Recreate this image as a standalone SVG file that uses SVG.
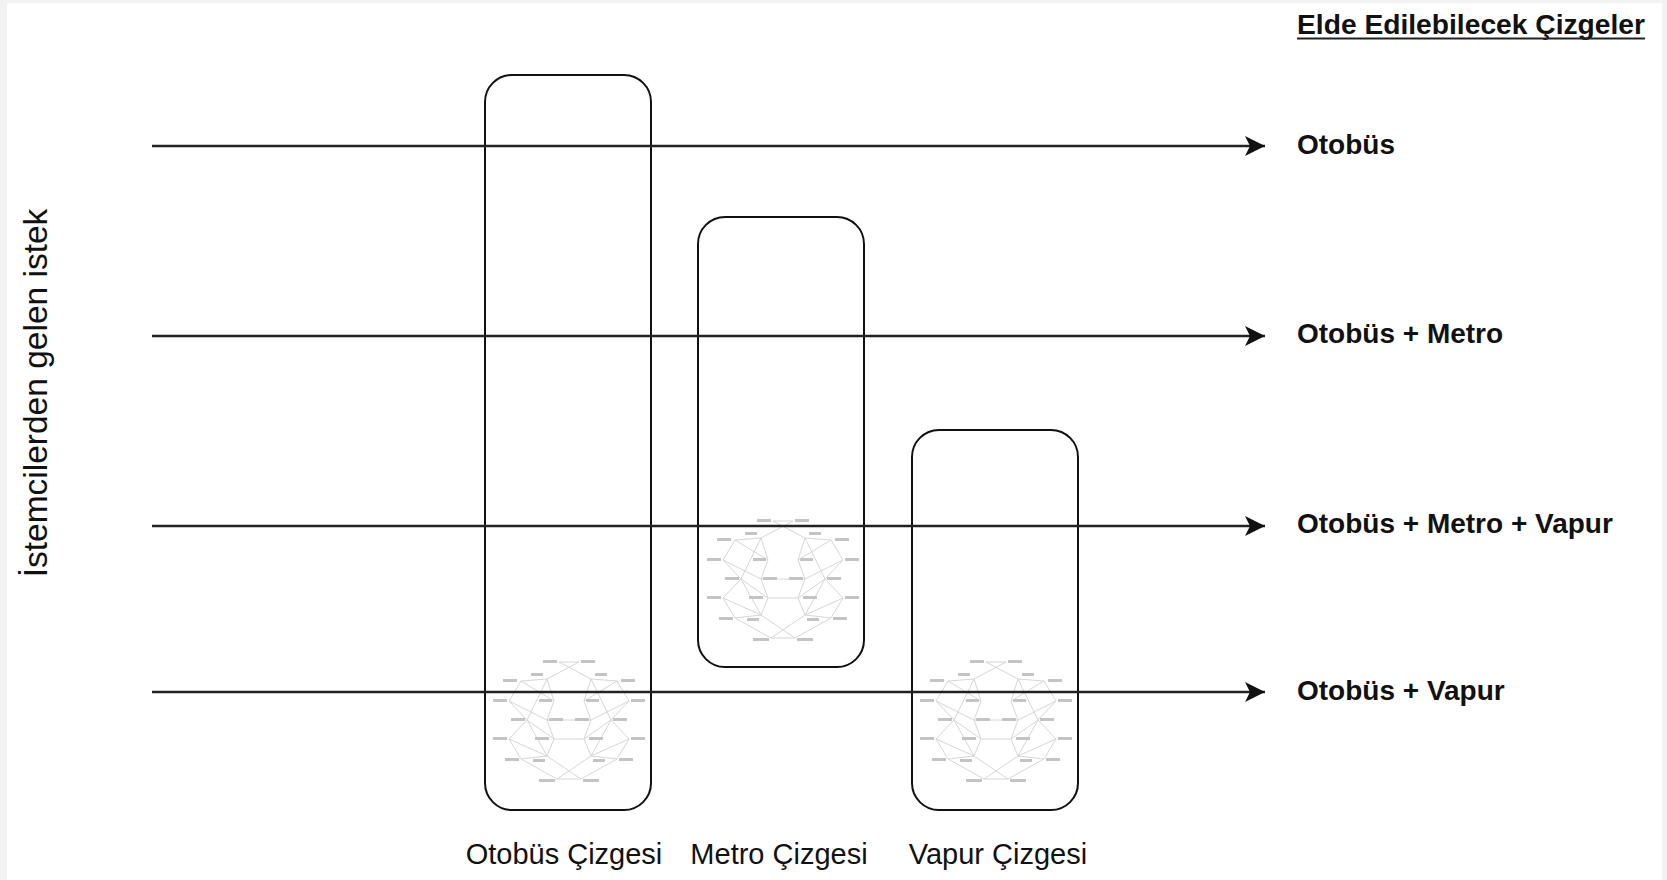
<svg xmlns="http://www.w3.org/2000/svg" xmlns:xlink="http://www.w3.org/1999/xlink" width="1667" height="880" viewBox="0 0 1667 880">
<style>
.box{fill:none;stroke:#111;stroke-width:2}
.conn{stroke:#222;stroke-width:2.4;fill:none}
.lbl{font-family:"Liberation Sans",Arial,sans-serif;font-weight:bold;font-size:28px;fill:#111}
.cap{font-family:"Liberation Sans",Arial,sans-serif;font-size:29px;fill:#111;text-anchor:middle}
.side{font-family:"Liberation Sans",Arial,sans-serif;font-size:33.5px;fill:#111;text-anchor:middle}
.nl{stroke:#d6d6d6;stroke-width:1;fill:none}
.nt{fill:#c4c4c4}
</style>
<defs>
<marker id="arr" viewBox="0 0 22 22" refX="20" refY="11" markerWidth="22" markerHeight="22" markerUnits="userSpaceOnUse" orient="auto">
<path d="M0,1 L20,11 L0,21 L5,11 Z" fill="#111"/>
</marker>
<g id="net">
<g class="nl">
<path d="M-10,-57 L10,-57 M-10,-57 L22,-40 M10,-57 L-22,-40"/>
<path d="M-22,-40 L-48,-38 M22,-40 L48,-38"/>
<path d="M-22,-40 L-42,1 L-22,37 L12,60 M22,-40 L42,1 L22,37 L-12,60"/>
<path d="M-22,-40 L-15,-18 L-22,1 L-15,20 L-22,37 M22,-40 L15,-18 L22,1 L15,20 L22,37"/>
<path d="M-48,-38 L-60,-18 L-42,1 L-60,20 L-48,40 M48,-38 L60,-18 L42,1 L60,20 L48,40"/>
<path d="M-48,-38 L-15,-18 M48,-38 L15,-18 M-60,-18 L-22,1 M60,-18 L22,1"/>
<path d="M-22,1 L22,1 M-15,20 L15,20 M-48,40 L-22,37 M48,40 L22,37"/>
<path d="M-60,20 L-22,37 M60,20 L22,37 M-42,1 L-15,20 M42,1 L15,20"/>
<path d="M-12,60 L12,60 M-48,40 L-12,60 M48,40 L12,60"/>
</g>
<g class="nt">
<rect x="-26" y="-59" width="14" height="3"/><rect x="12" y="-59" width="14" height="3"/>
<rect x="-38" y="-46" width="12" height="3"/><rect x="26" y="-46" width="12" height="3"/>
<rect x="-66" y="-40" width="14" height="3"/><rect x="52" y="-40" width="14" height="3"/>
<rect x="-30" y="-20" width="13" height="3"/><rect x="17" y="-20" width="13" height="3"/>
<rect x="-76" y="-20" width="14" height="3"/><rect x="62" y="-20" width="14" height="3"/>
<rect x="-58" y="-1" width="14" height="3"/><rect x="-20" y="-1" width="14" height="3"/>
<rect x="6" y="-1" width="14" height="3"/><rect x="44" y="-1" width="14" height="3"/>
<rect x="-76" y="18" width="14" height="3"/><rect x="-34" y="18" width="14" height="3"/>
<rect x="20" y="18" width="14" height="3"/><rect x="62" y="18" width="14" height="3"/>
<rect x="-64" y="39" width="14" height="3"/><rect x="-36" y="40" width="12" height="3"/>
<rect x="24" y="40" width="12" height="3"/><rect x="50" y="39" width="14" height="3"/>
<rect x="-30" y="60" width="16" height="3"/><rect x="14" y="60" width="16" height="3"/>
</g>
</g>
</defs>
<rect x="0" y="0" width="1667" height="880" fill="#f2f2f2"/>
<rect x="7" y="3" width="1655" height="877" fill="#ffffff"/>

<g id="title">
<text class="lbl" x="1297" y="34" textLength="348" lengthAdjust="spacingAndGlyphs">Elde Edilebilecek Çizgeler</text>
<line x1="1297" y1="38.5" x2="1645" y2="38.5" stroke="#222" stroke-width="2"/>
</g>

<g id="side-label">
<text class="side" transform="translate(47,393) rotate(-90)">İstemcilerden gelen istek</text>
</g>

<g id="node-otobus">
<rect class="box" x="485" y="75" width="166" height="735" rx="27" ry="27"/>
<use xlink:href="#net" href="#net" transform="translate(569,719)"/>
<text class="cap" x="564" y="864">Otobüs Çizgesi</text>
</g>
<g id="node-metro">
<rect class="box" x="698" y="217" width="166" height="450" rx="27" ry="27"/>
<use xlink:href="#net" href="#net" transform="translate(783,578)"/>
<text class="cap" x="779" y="864">Metro Çizgesi</text>
</g>
<g id="node-vapur">
<rect class="box" x="912" y="430" width="166" height="380" rx="27" ry="27"/>
<use xlink:href="#net" href="#net" transform="translate(996,719)"/>
<text class="cap" x="998" y="864">Vapur Çizgesi</text>
</g>

<g id="connectors">
<line class="conn" x1="152" y1="146" x2="1265" y2="146" marker-end="url(#arr)"/>
<line class="conn" x1="152" y1="336" x2="1265" y2="336" marker-end="url(#arr)"/>
<line class="conn" x1="152" y1="526" x2="1265" y2="526" marker-end="url(#arr)"/>
<line class="conn" x1="152" y1="692" x2="1265" y2="692" marker-end="url(#arr)"/>
</g>

<g id="labels">
<text class="lbl" x="1297" y="154">Otobüs</text>
<text class="lbl" x="1297" y="343">Otobüs + Metro</text>
<text class="lbl" x="1297" y="533">Otobüs + Metro + Vapur</text>
<text class="lbl" x="1297" y="700">Otobüs + Vapur</text>
</g>
</svg>
